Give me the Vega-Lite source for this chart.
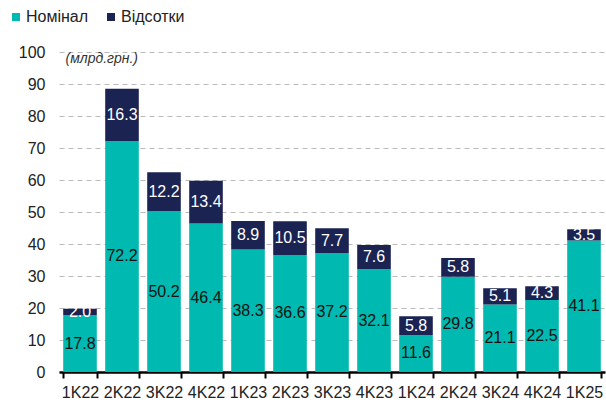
{
  "$schema": "https://vega.github.io/schema/vega-lite/v6.json",
  "width": 546,
  "height": 320,
  "padding": {"left": 8, "top": 9, "right": 1, "bottom": 5},
  "background": "white",
  "config": {
    "view": {"stroke": null},
    "font": "Liberation Sans, Arial, sans-serif"
  },
  "data": {
    "values": [
      {"q": "1K22", "type": "Номінал", "ord": 0, "value": 17.8},
      {"q": "1K22", "type": "Відсотки", "ord": 1, "value": 2.0},
      {"q": "2K22", "type": "Номінал", "ord": 0, "value": 72.2},
      {"q": "2K22", "type": "Відсотки", "ord": 1, "value": 16.3},
      {"q": "3K22", "type": "Номінал", "ord": 0, "value": 50.2},
      {"q": "3K22", "type": "Відсотки", "ord": 1, "value": 12.2},
      {"q": "4K22", "type": "Номінал", "ord": 0, "value": 46.4},
      {"q": "4K22", "type": "Відсотки", "ord": 1, "value": 13.4},
      {"q": "1K23", "type": "Номінал", "ord": 0, "value": 38.3},
      {"q": "1K23", "type": "Відсотки", "ord": 1, "value": 8.9},
      {"q": "2K23", "type": "Номінал", "ord": 0, "value": 36.6},
      {"q": "2K23", "type": "Відсотки", "ord": 1, "value": 10.5},
      {"q": "3K23", "type": "Номінал", "ord": 0, "value": 37.2},
      {"q": "3K23", "type": "Відсотки", "ord": 1, "value": 7.7},
      {"q": "4K23", "type": "Номінал", "ord": 0, "value": 32.1},
      {"q": "4K23", "type": "Відсотки", "ord": 1, "value": 7.6},
      {"q": "1K24", "type": "Номінал", "ord": 0, "value": 11.6},
      {"q": "1K24", "type": "Відсотки", "ord": 1, "value": 5.8},
      {"q": "2K24", "type": "Номінал", "ord": 0, "value": 29.8},
      {"q": "2K24", "type": "Відсотки", "ord": 1, "value": 5.8},
      {"q": "3K24", "type": "Номінал", "ord": 0, "value": 21.1},
      {"q": "3K24", "type": "Відсотки", "ord": 1, "value": 5.1},
      {"q": "4K24", "type": "Номінал", "ord": 0, "value": 22.5},
      {"q": "4K24", "type": "Відсотки", "ord": 1, "value": 4.3},
      {"q": "1K25", "type": "Номінал", "ord": 0, "value": 41.1},
      {"q": "1K25", "type": "Відсотки", "ord": 1, "value": 3.5}
    ]
  },
  "transform": [
    {"stack": "value", "groupby": ["q"], "sort": [{"field": "ord"}], "as": ["y0", "y1"]},
    {"calculate": "(datum.y0 + datum.y1) / 2", "as": "mid"}
  ],
  "encoding": {
    "x": {
      "field": "q", "type": "nominal", "sort": null,
      "scale": {"paddingInner": 0.2, "paddingOuter": 0.1},
      "axis": {
        "title": null, "labelAngle": 0, "labelFontSize": 16, "labelColor": "#222",
        "domainColor": "#000", "domainWidth": 2.5, "tickColor": "#000", "tickWidth": 2,
        "tickSize": 6, "tickBand": "extent", "labelPadding": 6
      }
    },
    "y": {
      "field": "y0", "type": "quantitative",
      "scale": {"domain": [0, 100]},
      "axis": {
        "values": [0,10,20,30,40,50,60,70,80,90,100],
        "title": "(млрд.грн.)", "titleAngle": 0, "titleX": 6, "titleY": 6,
        "titleAlign": "left", "titleBaseline": "middle", "titleFontStyle": "italic",
        "titleFontWeight": "normal", "titleFontSize": 14, "titleColor": "#333333",
        "domain": false, "ticks": false, "labelFontSize": 16, "labelColor": "#222",
        "labelPadding": 14, "gridColor": "#bbbbbb", "gridDash": [5, 4], "gridWidth": 1
      }
    }
  },
  "layer": [
    {
      "mark": {"type": "bar"},
      "encoding": {
        "y2": {"field": "y1"},
        "color": {
          "field": "type", "type": "nominal",
          "scale": {"domain": ["Номінал", "Відсотки"], "range": ["#00B9B0", "#1B2352"]},
          "legend": {
            "title": null, "orient": "none", "direction": "horizontal",
            "legendX": -51, "legendY": -43, "symbolType": "square", "symbolSize": 64,
            "symbolStrokeWidth": 0, "labelFontSize": 16, "labelColor": "#222",
            "labelOffset": 2, "columnPadding": 14
          }
        }
      }
    },
    {
      "mark": {"type": "text", "fontSize": 16, "align": "center", "baseline": "middle"},
      "encoding": {
        "y": {"field": "mid", "type": "quantitative"},
        "text": {"field": "value", "type": "quantitative", "format": ".1f"},
        "color": {"condition": {"test": "datum.type === 'Відсотки'", "value": "#ffffff"}, "value": "#111111"}
      }
    }
  ]
}
